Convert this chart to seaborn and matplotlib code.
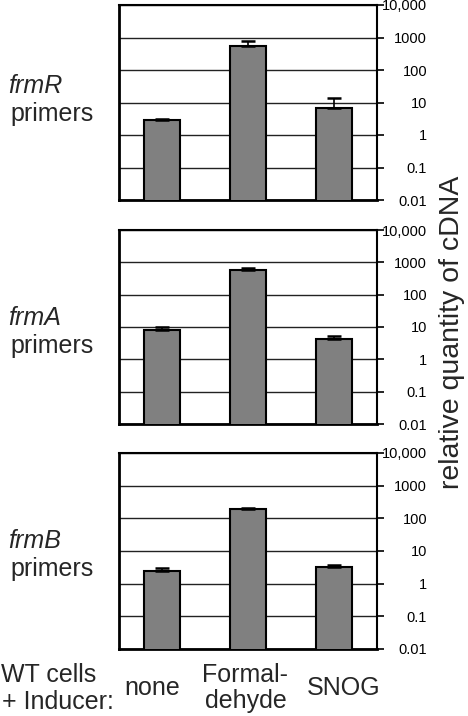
import numpy as np
import matplotlib
matplotlib.use("Agg")
import matplotlib.pyplot as plt
import seaborn as sns
from matplotlib.ticker import FixedLocator, NullLocator

sns.set_style("white")
plt.rcParams["font.family"] = ["Liberation Sans", "DejaVu Sans"]

# ---------------------------------------------------------
# Data
# ---------------------------------------------------------
conditions = ["none", "Formal-\ndehyde", "SNOG"]
genes = ["frmR", "frmA", "frmB"]

frmR_mean = [2.9, 560, 6.6]
frmR_err = [0.1, 200, 7.0]
frmA_mean = [8.1, 580, 4.3]
frmA_err = [2.0, 100, 0.8]
frmB_mean = [2.5, 192, 3.2]
frmB_err = [0.45, 8, 0.5]

means = [frmR_mean, frmA_mean, frmB_mean]
errs = [frmR_err, frmA_err, frmB_err]

ytick_vals = [0.01, 0.1, 1, 10, 100, 1000, 10000]
ytick_labels = ["0.01", "0.1", "1", "10", "100", "1000", "10,000"]

# ---------------------------------------------------------
# Layout (pixels of a 468x716 canvas)
# ---------------------------------------------------------
W, H = 468, 716
fig = plt.figure(figsize=(W / 100, H / 100), dpi=100)

ax_left, ax_right = 119, 377
panel_rows = [(5, 200), (230, 424), (453, 649)]
label_rows = [(86, 114), (318, 346), (541, 569)]

for i, (top, bottom) in enumerate(panel_rows):
    ax = fig.add_axes([ax_left / W, 1 - bottom / H,
                       (ax_right - ax_left) / W, (bottom - top) / H])
    sns.barplot(x=conditions, y=means[i], color="#808080", edgecolor="black",
                linewidth=1.5, width=0.41, saturation=1, ax=ax, zorder=3)
    ax.errorbar(range(len(conditions)), means[i],
                yerr=[np.zeros(len(conditions)), errs[i]],
                fmt="none", ecolor="black", elinewidth=1.2,
                capsize=5, capthick=1.8, zorder=4)

    ax.set_yscale("log")
    ax.set_ylim(0.01, 10000)
    ax.set_xlim(-0.5, 2.5)
    ax.yaxis.set_major_locator(FixedLocator(ytick_vals))
    ax.yaxis.set_minor_locator(NullLocator())
    ax.set_yticklabels(ytick_labels)
    ax.yaxis.tick_right()
    ax.tick_params(axis="y", direction="out", length=5, width=1.2,
                   pad=31, labelsize=10.5, colors="black")
    for t in ax.get_yticklabels():
        t.set_horizontalalignment("right")

    ax.set_xticks([-0.5, 0.5, 1.5, 2.5])
    ax.set_xticklabels([])
    ax.tick_params(axis="x", direction="out", length=6, width=1.2)
    ax.set_xlabel("")
    ax.set_ylabel("")

    ax.grid(axis="y", color="#222222", linewidth=1, zorder=0)
    ax.grid(axis="x", visible=False)
    for side in ["top", "right", "bottom", "left"]:
        ax.spines[side].set_visible(True)
        ax.spines[side].set_color("black")
        ax.spines[side].set_linewidth(1.5)
    ax.spines["left"].set_linewidth(2)
    ax.spines["bottom"].set_linewidth(2)

    y1, y2 = label_rows[i]
    fig.text(8 / W, 1 - y1 / H, genes[i], style="italic", fontsize=18,
             ha="left", va="center")
    fig.text(10 / W, 1 - y2 / H, "primers", fontsize=18,
             ha="left", va="center")

    if i == len(panel_rows) - 1:
        shifts = [-0.11, -0.03, 0.11]
        for j, name in enumerate(conditions):
            ax.text(j + shifts[j], -0.2, name, transform=ax.get_xaxis_transform(),
                    fontsize=18, ha="center", va="center", linespacing=1.12)

fig.text(1 / W, 1 - 675 / H, "WT cells", fontsize=18, ha="left", va="center")
fig.text(2 / W, 1 - 702 / H, "+ Inducer:", fontsize=18, ha="left", va="center")
fig.text(452 / W, 1 - 332 / H, "relative quantity of cDNA", fontsize=20.5,
         rotation=90, ha="center", va="center")

fig.savefig("out.png", dpi=100)
